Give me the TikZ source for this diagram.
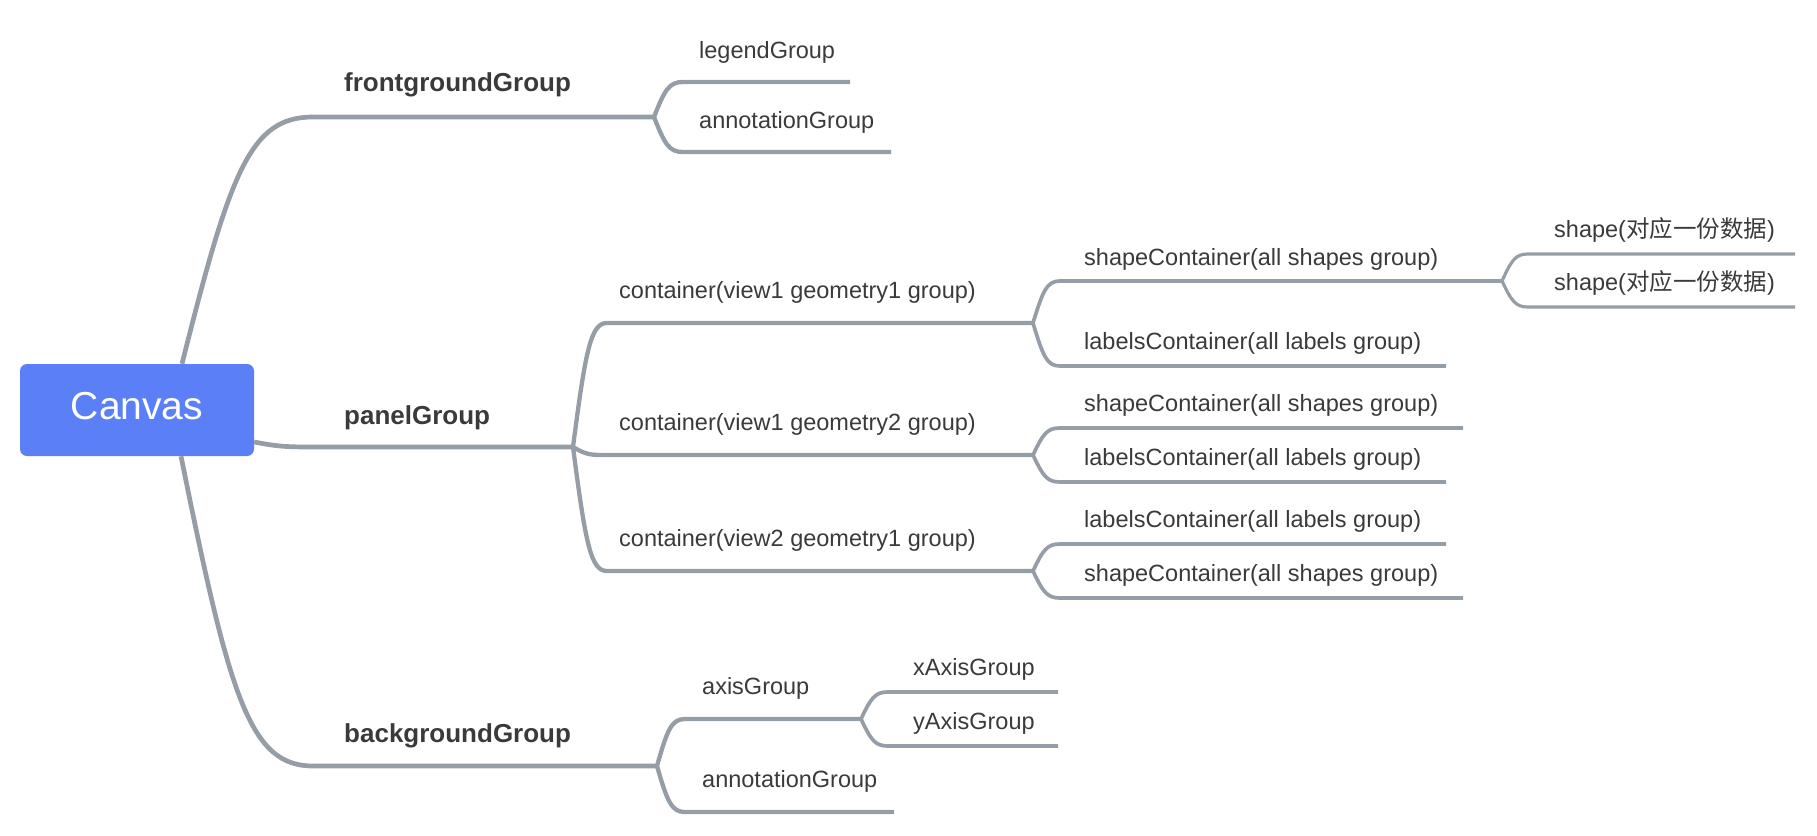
\documentclass[tikz,border=0pt]{standalone}
\usepackage{fontspec}
\setmainfont{Liberation Sans}
\newfontfamily\cjkfont{Noto Sans CJK SC}
\usepackage{tikz}
\usetikzlibrary{calc}
\definecolor{linegray}{HTML}{959DA6}
\definecolor{canvasblue}{HTML}{5A7FF7}
\definecolor{textgray}{HTML}{3A3A3A}
\tikzset{
  root/.style={fill=canvasblue,rounded corners=7pt,minimum width=234pt,minimum height=92pt,
    text=white,font=\fontsize{39}{44}\selectfont,text height=27pt,text depth=9pt},
  topic/.style={anchor=base west,inner sep=0pt,text=textgray,font=\fontsize{26}{30}\selectfont\bfseries},
  leaf/.style={anchor=base west,inner sep=0pt,text=textgray,font=\fontsize{23.5}{28}\selectfont},
  twig/.style={to path={let \p1=(\tikztostart), \p2=(\tikztotarget) in
    .. controls ({\x1+0.37*(\x2-\x1)},{\y1+0.78*(\y2-\y1)}) and ({\x1+0.52*(\x2-\x1)},\y2) .. (\tikztotarget)}},
  lvlone/.style={draw=linegray,line width=4.7pt},
  lvltwo/.style={draw=linegray,line width=4.3pt},
  lvlthree/.style={draw=linegray,line width=3.7pt},
  lvlfour/.style={draw=linegray,line width=3.2pt}
}

\begin{document}
\begin{tikzpicture}[x=1pt,y=-1pt]
\useasboundingbox (0,0) rectangle (1817,835);

% root
\node[root] (canvas) at (137,410) {Canvas};

% branch points
\coordinate (fg) at (313,117);   \coordinate (fg-b) at (654,117);
\coordinate (pg) at (310,447);   \coordinate (pg-b) at (573,447);
\coordinate (bg) at (313,766);   \coordinate (bg-b) at (657,766);
\coordinate (legend) at (683,82);  \coordinate (legend-e) at (850,82);
\coordinate (fgnote) at (683,152); \coordinate (fgnote-e) at (891,152);
\coordinate (c1) at (607,323); \coordinate (c1-b) at (1033,323);
\coordinate (c2) at (602,455); \coordinate (c2-b) at (1033,455);
\coordinate (c3) at (607,571); \coordinate (c3-b) at (1033,571);
\coordinate (sc1) at (1060,281); \coordinate (sc1-b) at (1502,281);
\coordinate (lc1) at (1060,366); \coordinate (lc1-e) at (1446,366);
\coordinate (s1) at (1528,254);  \coordinate (s1-e) at (1795,254);
\coordinate (s2) at (1528,307);  \coordinate (s2-e) at (1795,307);
\coordinate (sc2) at (1060,428); \coordinate (sc2-e) at (1463,428);
\coordinate (lc2) at (1060,482); \coordinate (lc2-e) at (1446,482);
\coordinate (lc3) at (1060,544); \coordinate (lc3-e) at (1446,544);
\coordinate (sc3) at (1060,598); \coordinate (sc3-e) at (1463,598);
\coordinate (axis) at (685,719);   \coordinate (axis-b) at (861,719);
\coordinate (bgnote) at (685,812); \coordinate (bgnote-e) at (894,812);
\coordinate (xaxis) at (888,692);  \coordinate (xaxis-e) at (1058,692);
\coordinate (yaxis) at (888,746);  \coordinate (yaxis-e) at (1058,746);

% connectors
\draw[lvlone] ($(canvas.north)+(45,0)$) to[twig] (fg) -- (fg-b);
\draw[lvlone] ($(canvas.east)+(0,32)$) to[twig] (pg) -- (pg-b);
\draw[lvlone] ($(canvas.south)+(44,0)$) to[twig] (bg) -- (bg-b);
\draw[lvltwo] (fg-b) to[twig] (legend) -- (legend-e);
\draw[lvltwo] (fg-b) to[twig] (fgnote) -- (fgnote-e);
\draw[lvltwo] (pg-b) to[twig] (c1) -- (c1-b);
\draw[lvltwo] (pg-b) to[twig] (c2) -- (c2-b);
\draw[lvltwo] (pg-b) to[twig] (c3) -- (c3-b);
\draw[lvltwo] (bg-b) to[twig] (axis) -- (axis-b);
\draw[lvltwo] (bg-b) to[twig] (bgnote) -- (bgnote-e);
\draw[lvlthree] (c1-b) to[twig] (sc1) -- (sc1-b);
\draw[lvlthree] (c1-b) to[twig] (lc1) -- (lc1-e);
\draw[lvlthree] (c2-b) to[twig] (sc2) -- (sc2-e);
\draw[lvlthree] (c2-b) to[twig] (lc2) -- (lc2-e);
\draw[lvlthree] (c3-b) to[twig] (lc3) -- (lc3-e);
\draw[lvlthree] (c3-b) to[twig] (sc3) -- (sc3-e);
\draw[lvlthree] (axis-b) to[twig] (xaxis) -- (xaxis-e);
\draw[lvlthree] (axis-b) to[twig] (yaxis) -- (yaxis-e);
\draw[lvlfour] (sc1-b) to[twig] (s1) -- (s1-e);
\draw[lvlfour] (sc1-b) to[twig] (s2) -- (s2-e);

% labels
\node[topic] (t-fg) at (344,91) {frontgroundGroup};
\node[topic] (t-pg) at (344,424) {panelGroup};
\node[topic] (t-bg) at (344,742) {backgroundGroup};
\node[leaf] (t-legend) at (699,58) {legendGroup};
\node[leaf] (t-fgnote) at (699,128) {annotationGroup};
\node[leaf] (t-c1) at (619,298) {container(view1 geometry1 group)};
\node[leaf] (t-c2) at (619,430) {container(view1 geometry2 group)};
\node[leaf] (t-c3) at (619,546) {container(view2 geometry1 group)};
\node[leaf] (t-sc1) at (1084,265) {shapeContainer(all shapes group)};
\node[leaf] (t-lc1) at (1084,349) {labelsContainer(all labels group)};
\node[leaf] (t-s1) at (1554,237) {shape({\cjkfont 对应一份数据})};
\node[leaf] (t-s2) at (1554,290) {shape({\cjkfont 对应一份数据})};
\node[leaf] (t-sc2) at (1084,411) {shapeContainer(all shapes group)};
\node[leaf] (t-lc2) at (1084,465) {labelsContainer(all labels group)};
\node[leaf] (t-lc3) at (1084,527) {labelsContainer(all labels group)};
\node[leaf] (t-sc3) at (1084,581) {shapeContainer(all shapes group)};
\node[leaf] (t-axis) at (702,694) {axisGroup};
\node[leaf] (t-bgnote) at (702,787) {annotationGroup};
\node[leaf] (t-xaxis) at (913,675) {xAxisGroup};
\node[leaf] (t-yaxis) at (913,729) {yAxisGroup};
\end{tikzpicture}
\end{document}
